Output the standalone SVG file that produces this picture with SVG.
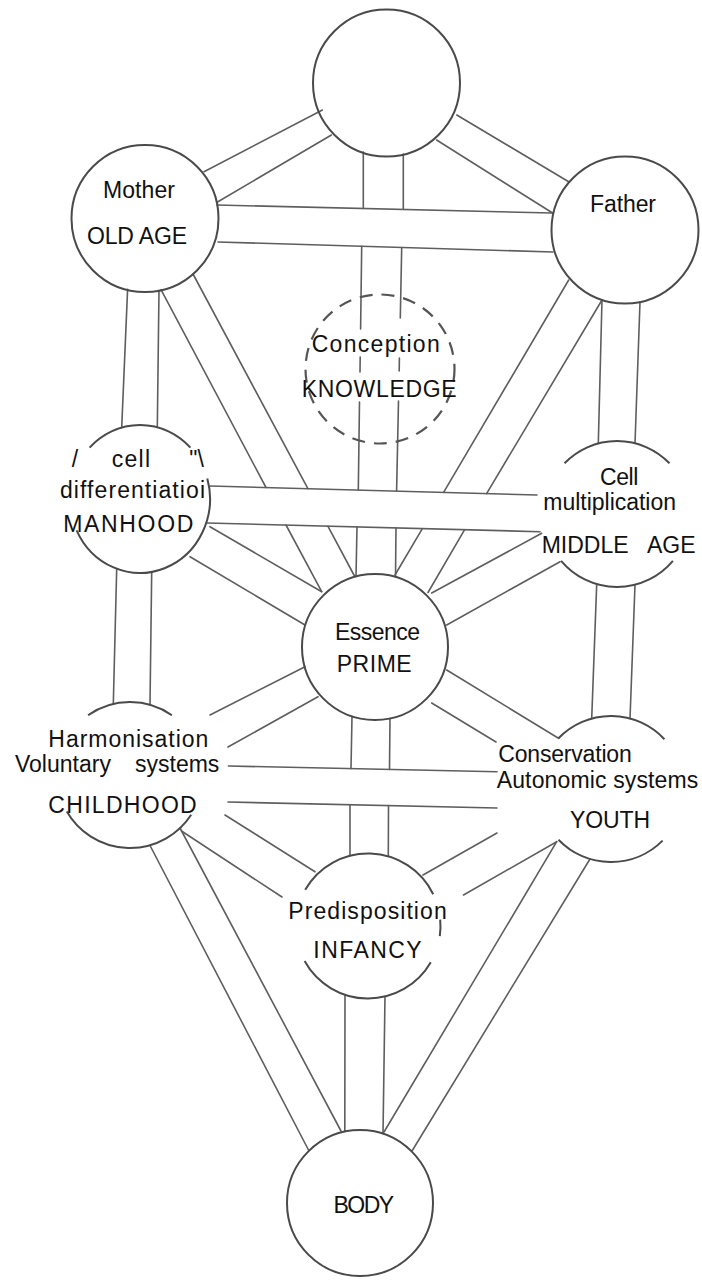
<svg xmlns="http://www.w3.org/2000/svg" width="702" height="1280" viewBox="0 0 702 1280">
<style>
.ln{fill:none;stroke:#5e5e5e;stroke-width:1.6;stroke-linecap:round}
.nd{fill:none;stroke:#4a4a4a;stroke-width:2}
.ds{fill:none;stroke:#555;stroke-width:2.2;stroke-dasharray:13 9}
.t{font-family:"Liberation Sans",Arial,sans-serif;font-size:23px;fill:#111}
.u{font-size:23px}
</style>
<rect width="702" height="1280" fill="#fff"/>
<g id="connectors">
<path class="ln" d="M204 171.7L322.4 110M217.5 202L331.4 135"/>
<path class="ln" d="M456.8 115L568.7 181.7M436.6 140L553 213.3"/>
<path class="ln" d="M217 205L552 213M218 242L553 252"/>
<path class="ln" d="M363.3 152L363.3 208.5M403.3 154L403.3 209.4"/>
<path class="ln" d="M361.7 246.3L360.6 329M360.2 357L360 372M359.5 402L358.3 490M401.7 247.5L400.3 318M399.4 358L399.2 371M398.5 401L396.6 491"/>
<path class="ln" d="M357 527L356 576.5M396 528.1L395.5 576.9"/>
<path class="ln" d="M161 289.7L266 487.5M286 525L321.7 591.7M193 274L307.9 488.7M328 526.3L354.5 576"/>
<path class="ln" d="M568.7 280L443.6 492.4M422.2 528.8L395 575M602 300L486.6 493.6M464.5 529.9L428 592.5"/>
<path class="ln" d="M210 486L537 495M207 523L540 531.7"/>
<path class="ln" d="M127.6 289.4L121.7 427.6M159 290.2L157.3 427.3"/>
<path class="ln" d="M602 299.8L598.3 443.4M640 302L635 443.3"/>
<path class="ln" d="M210 526.7L321.7 591.7M190 556.7L305 625"/>
<path class="ln" d="M541.7 533.3L431.7 593M560 561.7L446.7 625"/>
<path class="ln" d="M116.7 568.8L113.3 703.9M151.7 572L150 704.8"/>
<path class="ln" d="M596.7 584.1L591.7 718.6M635 584.7L630 718.5"/>
<path class="ln" d="M305 666.7L210 715M318 696.7L228 747"/>
<path class="ln" d="M446.7 670L558.5 738.3M431.7 703L496 742"/>
<path class="ln" d="M228.4 766L497 771.7M228 802L497 808"/>
<path class="ln" d="M352 716.3L351 768.6M390 718.4L389.5 769.4M350 804.7L350 855.8M388.5 805.6L388.3 856.4"/>
<path class="ln" d="M225 815L315 871.7M181.5 831L282 897"/>
<path class="ln" d="M497 833L423 875M556.7 841.7L463.5 895"/>
<path class="ln" d="M150 845.5L308.5 1150M180 828L341 1131"/>
<path class="ln" d="M556.7 841.7L384 1132M590 859L412 1151"/>
<path class="ln" d="M345 994.8L344.8 1131.6M385 996.5L383 1133.7"/>
</g>
<g id="kether"><circle class="nd" cx="386.5" cy="83" r="73.5"/></g>
<g id="mother"><circle class="nd" cx="145" cy="218.5" r="73.5"/>
<text class="t" x="103" y="198" textLength="72">Mother</text>
<text class="t u" x="87" y="243.5" textLength="100">OLD AGE</text></g>
<g id="father"><circle class="nd" cx="625" cy="230" r="73.5"/>
<text class="t" x="590" y="211.5" textLength="66">Father</text></g>
<g id="conception"><circle class="ds" cx="380" cy="369" r="74.5"/>
<text class="t" x="311.7" y="351.7" textLength="128">Conception</text>
<text class="t u" x="301.7" y="396.7" textLength="155">KNOWLEDGE</text></g>
<g id="manhood"><path class="nd" d="M89.6 447.6A70 74 0 0 1 190.4 447.6M207.3 478.6A70 74 0 0 1 76.6 530.3"/>
<text class="t" y="466.7"><tspan x="71.7">/</tspan> <tspan x="111.7" textLength="38.3">cell</tspan> <tspan x="189.3">"\</tspan></text>
<text class="t" x="60" y="498.3" textLength="145">differentiatioi</text>
<text class="t u" x="63.3" y="531.7" textLength="130">MANHOOD</text></g>
<g id="middle-age"><path class="nd" d="M564.5 463.3A73 73 0 0 1 669.5 463.3M672.9 560.9A73 73 0 0 1 561.1 560.9"/>
<text class="t" x="600" y="485" textLength="38.3">Cell</text>
<text class="t" x="543.3" y="510" textLength="132.7">multiplication</text>
<text class="t u" y="553.3"><tspan x="541.7">MIDDLE</tspan> <tspan x="647">AGE</tspan></text></g>
<g id="essence"><circle class="nd" cx="375" cy="647" r="73"/>
<text class="t" x="335" y="640" textLength="85">Essence</text>
<text class="t u" x="336.7" y="671.7" textLength="75">PRIME</text></g>
<g id="childhood"><path class="nd" d="M88.1 715.2A73 73 0 0 1 171.9 715.2M191.2 814.8A73 73 0 0 1 66.8 811.5"/>
<text class="t" x="48.3" y="746.7" textLength="160">Harmonisation</text>
<text class="t" y="771.7"><tspan x="15">Voluntary</tspan> <tspan x="135">systems</tspan></text>
<text class="t u" x="48.3" y="812.7" textLength="148.4">CHILDHOOD</text></g>
<g id="youth"><path class="nd" d="M558.5 738.3A73 73 0 0 1 664.4 739.2M662.6 840.6A73 73 0 0 1 558.5 839.7"/>
<text class="t" x="498.3" y="761.7" textLength="133.4">Conservation</text>
<text class="t" x="496.7" y="788.3" textLength="201.6">Autonomic systems</text>
<text class="t u" x="570" y="828.3" textLength="80">YOUTH</text></g>
<g id="infancy"><path class="nd" d="M305.2 889.75A72.5 72.5 0 0 1 433.2 894.2M430.8 962.25A72.5 72.5 0 0 1 304.6 961.1M440.2 919.7A72.5 72.5 0 0 1 439.8 936.1"/>
<text class="t" x="288.3" y="919.3" textLength="158.4">Predisposition</text>
<text class="t u" x="313.3" y="958.3" textLength="108.4">INFANCY</text></g>
<g id="body"><circle class="nd" cx="360" cy="1203" r="73"/>
<text class="t u" x="333.6" y="1212.7" textLength="60.4">BODY</text></g>
</svg>
